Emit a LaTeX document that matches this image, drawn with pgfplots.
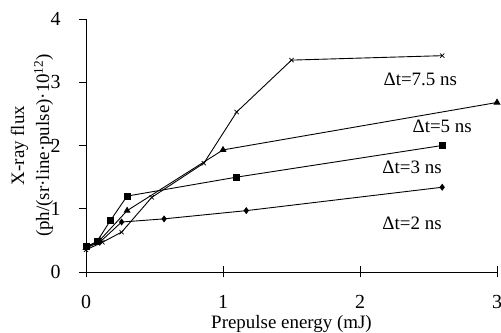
\documentclass[border=0pt]{standalone}
\usepackage{fontspec}
\setmainfont{Liberation Serif}
\usepackage{pgfplots}
\pgfplotsset{compat=1.18}
\begin{document}
\fontsize{19}{23}\selectfont
\begin{tikzpicture}
\begin{axis}[
  name=ax,
  scale only axis, width=411bp, height=253bp,
  xmin=0, xmax=3, ymin=0, ymax=4,
  axis x line=bottom, axis y line=left,
  axis line style={-, line width=0.8pt},
  xtick={0,1,2,3}, ytick={0,1,2,3,4},
  /pgf/number format/assume math mode=true,
  ticklabel style={font=\fontsize{20}{24}\selectfont},
  xtick style={line width=0.6pt, black},
  ytick style={line width=0.6pt, black},
  x tick style={/pgfplots/major tick length=11bp},
  xtick align=center, ytick align=outside,
  major tick length=7bp,
  xticklabel style={yshift=-19bp, inner sep=1bp},
  yticklabel style={xshift=-12bp},
  xlabel={Prepulse energy (mJ)},
  xlabel style={at={(axis description cs:0.5,0)}, anchor=center, yshift=-52bp, inner sep=1bp, font=\fontsize{19}{23}\selectfont},
  ylabel={X-ray flux\\(ph/(sr·line·pulse)·10\textsuperscript{12})},
  ylabel style={at={(axis description cs:0,0.5)}, anchor=center, yshift=54bp, align=center, font=\fontsize{19}{25}\selectfont},
  every axis plot/.append style={black, line width=0.9pt},
  clip=false,
]
\addplot[mark=diamond*, mark size=2.8pt] coordinates {(0,0.38) (0.1,0.47) (0.26,0.79) (0.57,0.84) (1.17,0.97) (2.6,1.34)};
\addplot[mark=square*, mark size=3pt] coordinates {(0,0.40) (0.08,0.48) (0.18,0.82) (0.3,1.2) (1.1,1.5) (2.6,2.0)};
\addplot[mark=triangle*, mark size=3.2pt] coordinates {(0,0.38) (0.1,0.5) (0.3,0.97) (1.0,1.93) (3.0,2.68)};
\addplot[mark=x, mark size=3pt, mark options={line width=0.7pt}] coordinates {(0,0.35) (0.12,0.47) (0.26,0.63) (0.48,1.18) (0.86,1.72) (1.1,2.53) (1.5,3.35) (2.6,3.42)};
\node at (axis cs:2.44,3.04) {Δt=7.5 ns};
\node at (axis cs:2.6,2.31) {Δt=5 ns};
\node at (axis cs:2.38,1.65) {Δt=3 ns};
\node at (axis cs:2.38,0.77) {Δt=2 ns};
\end{axis}
\pgfresetboundingbox
\path ([xshift=-86bp,yshift=-61bp]ax.south west) rectangle ([xshift=4bp,yshift=19bp]ax.north east);
\end{tikzpicture}
\end{document}
